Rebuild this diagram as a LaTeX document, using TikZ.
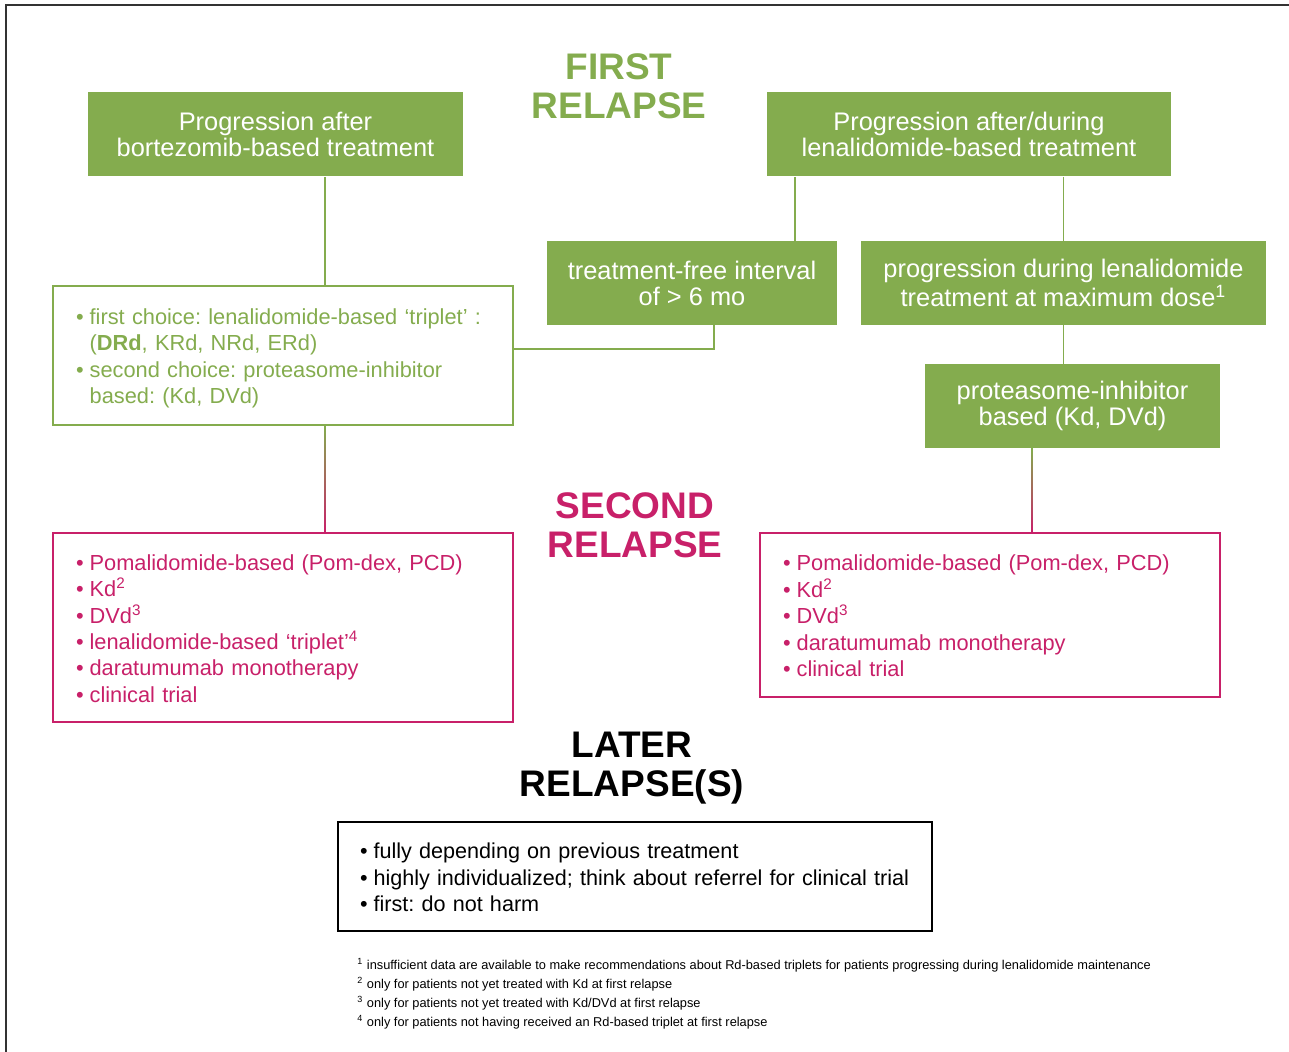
\documentclass[tikz,border=0pt]{standalone}
\usepackage{fontspec}
\setmainfont{Liberation Sans}
\usepackage{tikz}
\usetikzlibrary{calc}
\frenchspacing

\definecolor{relgreen}{RGB}{132,172,78}
\definecolor{relpink}{RGB}{200,32,105}
\definecolor{framegray}{RGB}{51,51,51}

\newcommand{\bul}{\textbullet}
\newcommand{\topgap}{\rule{0pt}{12.6pt}}

\begin{document}
\begin{tikzpicture}[x=0.5pt, y=-0.5pt,
    greenbox/.style={fill=relgreen, text=white, inner sep=0pt, align=center,
        minimum height=42pt, font=\fontsize{12.7}{13}\selectfont},
    listbox/.style={draw, line width=1pt, inner xsep=11.5pt, inner ysep=0pt,
        align=left, font=\fontsize{10.9}{13.2}\selectfont},
    relapse/.style={font=\fontsize{18.5}{19.5}\selectfont\bfseries, align=center},
    link/.style={relgreen, line width=0.8pt}]

        % Frame and page size
        \useasboundingbox (0,0) rectangle (1289,1052);
        \draw[framegray, line width=1pt] (6,1052) -- (6,5) -- (1289,5);

        % Titles
        \node[relapse, relgreen] (t1) at (619,86) {FIRST\\RELAPSE};
        \node[relapse, relpink] (t2) at (635,525) {SECOND\\RELAPSE};
        \node[relapse, black] (t3) at (632,768) {LATER\\RELAPSE(S)};

        % First relapse boxes
        \node[greenbox, minimum width=187.5pt] (bort) at (275.5,134.5)
            {Progression after\\bortezomib-based treatment};
        \node[greenbox, minimum width=202pt] (lena) at (969,134.5)
            {Progression after/during\\lenalidomide-based treatment};
        \node[greenbox, minimum width=145pt] (free) at (692,283)
            {treatment-free interval\\of > 6 mo};
        \node[greenbox, minimum width=202.5pt] (maxd) at (1063.5,283)
            {progression during lenalidomide\\treatment at maximum dose\textsuperscript{1}};
        \node[greenbox, minimum width=147.5pt] (prot) at (1072.5,406)
            {proteasome-inhibitor\\based (Kd, DVd)};

        % Choices at first relapse
        \node[listbox, relgreen, text width=207pt, minimum height=69.5pt] (choice) at (283,355.5)
            {\begin{tabular}{@{}l@{\hspace{3pt}}l@{}}
             \topgap\bul & first choice: lenalidomide-based ‘triplet’ :\\
                  & (\textbf{DRd}, KRd, NRd, ERd)\\
             \bul & second choice: proteasome-inhibitor\\
                  & based: (Kd, DVd)
             \end{tabular}};

        % Second relapse boxes
        \node[listbox, relpink, text width=207pt, minimum height=94.5pt] (secl) at (283,627.5)
            {\begin{tabular}{@{}l@{\hspace{3pt}}l@{}}
             \topgap\bul & Pomalidomide-based (Pom-dex, PCD)\\
             \bul & Kd\textsuperscript{2}\\
             \bul & DVd\textsuperscript{3}\\
             \bul & lenalidomide-based ‘triplet’\textsuperscript{4}\\
             \bul & daratumumab monotherapy\\
             \bul & clinical trial
             \end{tabular}};
        \node[listbox, relpink, text width=207pt, minimum height=82pt] (secr) at (990,615)
            {\begin{tabular}{@{}l@{\hspace{3pt}}l@{}}
             \topgap\bul & Pomalidomide-based (Pom-dex, PCD)\\
             \bul & Kd\textsuperscript{2}\\
             \bul & DVd\textsuperscript{3}\\
             \bul & daratumumab monotherapy\\
             \bul & clinical trial
             \end{tabular}};

        % Later relapses
        \node[listbox, black, line width=0.8pt, inner xsep=11pt, text width=275pt,
            minimum height=54.5pt, font=\fontsize{10.8}{13.2}\selectfont] (later) at (635,876.5)
            {\begin{tabular}{@{}l@{\hspace{3pt}}l@{}}
             \topgap\bul & fully depending on previous treatment\\
             \bul & highly individualized; think about referrel for clinical trial\\
             \bul & first: do not harm
             \end{tabular}};

        % Footnotes
        \node[anchor=north west, align=left, inner sep=0pt,
            font=\fontsize{6.4}{9.5}\selectfont] (notes) at (357,958)
            {\textsuperscript{1} insufficient data are available to make recommendations about Rd-based triplets for patients progressing during lenalidomide maintenance\\
             \textsuperscript{2} only for patients not yet treated with Kd at first relapse\\
             \textsuperscript{3} only for patients not yet treated with Kd/DVd at first relapse\\
             \textsuperscript{4} only for patients not having received an Rd-based triplet at first relapse};

        % Connectors
        \coordinate (lspine) at (325,0);
        \coordinate (rfree) at (795,0);
        \coordinate (rspine) at (1032,0);
        \coordinate (cjoin) at (714,349);
        \draw[link] (bort.south -| lspine) -- (choice.north -| lspine);
        \draw[link] (lena.south -| rfree) -- (free.north -| rfree);
        \draw[link] (lena.south -| maxd.north) -- (maxd.north);
        \draw[link] (maxd.south) -- (prot.north -| maxd.south);
        \draw[link] (free.south -| cjoin) -- (cjoin) -- (cjoin -| choice.east);
        \shade[top color=relgreen, bottom color=relpink]
            ($(choice.south -| lspine)+(-0.8,0)$) rectangle ($(secl.north -| lspine)+(0.8,0)$);
        \shade[top color=relgreen, bottom color=relpink]
            ($(prot.south -| rspine)+(-0.8,0)$) rectangle ($(secr.north -| rspine)+(0.8,0)$);
    \end{tikzpicture}
\end{document}
